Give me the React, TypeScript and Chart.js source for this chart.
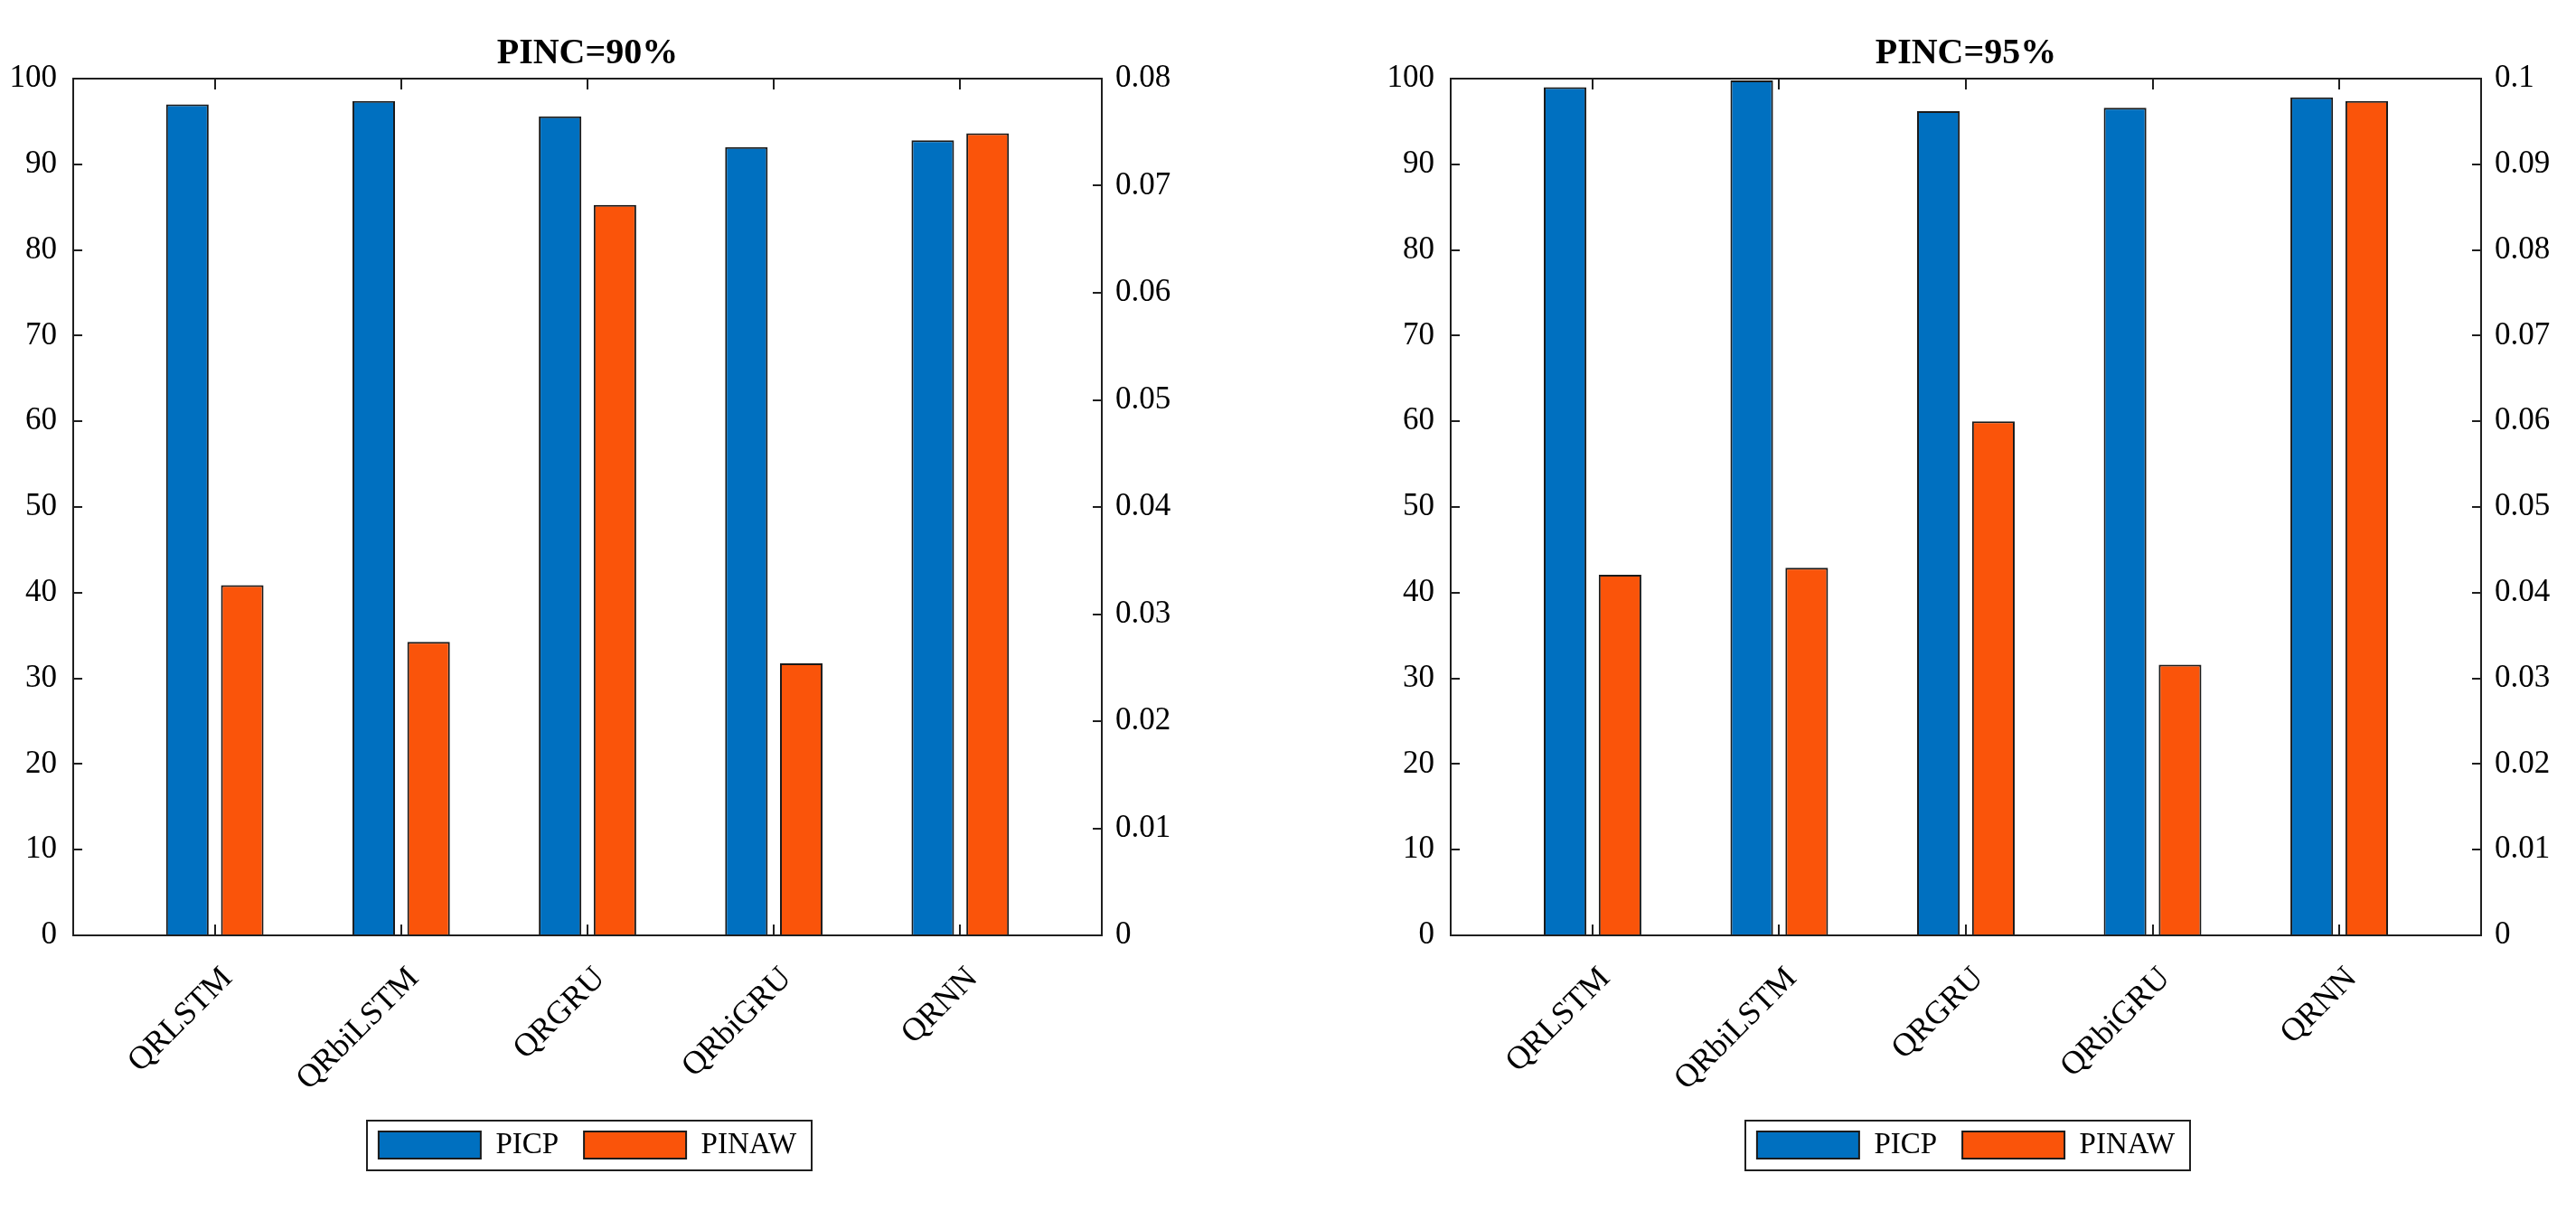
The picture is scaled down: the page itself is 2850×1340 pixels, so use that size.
import React, { useEffect, useRef } from "react";
import { Chart, registerables } from "chart.js";

Chart.register(...registerables);

// ---- data ----
const categories = ["QRLSTM", "QRbiLSTM", "QRGRU", "QRbiGRU", "QRNN"];
const seriesNames = ["PICP", "PINAW"];
const titles = ["PINC=90%", "PINC=95%"];
const picp90 = [97.0, 97.4, 95.6, 92.0, 92.8];
const pinaw90 = [0.0327, 0.0274, 0.0682, 0.0254, 0.0749];
const picp95 = [99.0, 99.8, 96.2, 96.6, 97.8];
const pinaw95 = [0.0421, 0.0429, 0.06, 0.0316, 0.0974];
const picpAxis = { min: 0, max: 100, step: 10 };
const pinawAxisMax = [0.08, 0.1];
const pinawStep = 0.01;

const SERIF = "'Liberation Serif', 'Times New Roman', serif";
const BLUE = "#0070C0";
const ORANGE = "#FA540A";
const EDGE = "#1a1a1a";

const frameTicks = {
  id: "frameTicks",
  afterDatasetsDraw(chart: any) {
    const { ctx, chartArea: a, scales } = chart;
    ctx.save();
    ctx.strokeStyle = "#1f1f1f";
    ctx.lineWidth = 2;
    ctx.beginPath();
    const L = 10;
    scales.y.ticks.forEach((t: any) => {
      const py = Math.round(scales.y.getPixelForValue(t.value));
      ctx.moveTo(a.left, py);
      ctx.lineTo(a.left + L, py);
    });
    scales.y1.ticks.forEach((t: any) => {
      const py = Math.round(scales.y1.getPixelForValue(t.value));
      ctx.moveTo(a.right, py);
      ctx.lineTo(a.right - L, py);
    });
    scales.x.ticks.forEach((t: any) => {
      const px = Math.round(scales.x.getPixelForValue(t.value));
      ctx.moveTo(px, a.bottom);
      ctx.lineTo(px, a.bottom - 12);
      ctx.moveTo(px, a.top);
      ctx.lineTo(px, a.top + 12);
    });
    ctx.stroke();
    ctx.strokeRect(a.left, a.top, a.right - a.left, a.bottom - a.top);
    ctx.restore();
  },
};

const legendFrame = {
  id: "legendFrame",
  afterDraw(chart: any) {
    const lg = chart.legend;
    const boxes = lg && lg.legendHitBoxes;
    if (!boxes || !boxes.length) return;
    const ctx = chart.ctx;
    const l = Math.min(...boxes.map((b: any) => b.left)) - 13;
    const r = Math.max(...boxes.map((b: any) => b.left + b.width)) + 17;
    const cy = boxes[0].top + boxes[0].height / 2;
    ctx.save();
    ctx.strokeStyle = "#1f1f1f";
    ctx.lineWidth = 2;
    ctx.strokeRect(Math.round(l), Math.round(cy - 27.5), Math.round(r - l), 55);
    ctx.restore();
  },
};

type PanelProps = {
  title: string;
  picp: number[];
  pinaw: number[];
  pinawMax: number;
  leftW: number;
  rightW: number;
  left: number;
};

function BarPanel({ title, picp, pinaw, pinawMax, leftW, rightW, left }: PanelProps) {
  const ref = useRef<HTMLCanvasElement>(null);
  useEffect(() => {
    const tickFont = { family: SERIF, size: 35 };
    const xFont = { family: SERIF, size: 36 };
    const chart = new Chart(ref.current as HTMLCanvasElement, {
      type: "bar",
      data: {
        datasets: [
          {
            label: seriesNames[0],
            data: picp.map((v, i) => ({ x: i + 1, y: v })),
            yAxisID: "y",
            backgroundColor: BLUE,
            borderColor: EDGE,
            borderWidth: 2,
            barPercentage: 0.775,
            categoryPercentage: 0.589,
          },
          {
            label: seriesNames[1],
            data: pinaw.map((v, i) => ({ x: i + 1, y: v })),
            yAxisID: "y1",
            backgroundColor: ORANGE,
            borderColor: EDGE,
            borderWidth: 2,
            barPercentage: 0.775,
            categoryPercentage: 0.589,
          },
        ] as any,
      },
      options: {
        responsive: false,
        animation: false,
        devicePixelRatio: 1,
        layout: { padding: { left: 0, right: 0, top: 0, bottom: 46.5 } },
        plugins: {
          tooltip: { enabled: false },
          title: {
            display: true,
            text: title,
            fullSize: false,
            color: "#000",
            font: { family: SERIF, size: 40, weight: "bold" },
            padding: { top: 36, bottom: 3 },
          },
          legend: {
            display: true,
            position: "bottom",
            fullSize: false,
            labels: {
              boxWidth: 113,
              boxHeight: 30,
              color: "#000",
              font: { family: SERIF, size: 33 },
              padding: 28,
            },
          },
        },
        scales: {
          x: {
            type: "linear",
            min: 0.24,
            max: 5.76,
            offset: false,
            grid: { display: false },
            border: { display: false },
            afterBuildTicks: (s: any) => {
              s.ticks = categories.map((_, i) => ({ value: i + 1 }));
            },
            afterFit: (s: any) => {
              s.height = 187.5;
            },
            ticks: {
              autoSkip: false,
              minRotation: 45,
              maxRotation: 45,
              padding: 19,
              labelOffset: 14,
              color: "#000",
              font: xFont,
              callback: (v: any) => categories[Math.round(Number(v)) - 1] ?? "",
            },
          },
          y: {
            type: "linear",
            position: "left",
            min: picpAxis.min,
            max: picpAxis.max,
            grid: { display: false, drawTicks: false },
            border: { display: false },
            afterFit: (s: any) => {
              s.width = leftW;
            },
            ticks: { stepSize: picpAxis.step, padding: 18, color: "#000", font: tickFont },
          },
          y1: {
            type: "linear",
            position: "right",
            min: 0,
            max: pinawMax,
            grid: { display: false, drawTicks: false },
            border: { display: false },
            afterFit: (s: any) => {
              s.width = rightW;
            },
            ticks: {
              stepSize: pinawStep,
              padding: 15,
              color: "#000",
              font: tickFont,
              callback: (v: any) => String(parseFloat(Number(v).toFixed(2))),
            },
          },
        },
      } as any,
      plugins: [frameTicks, legendFrame],
    });
    return () => chart.destroy();
  }, []);
  return (
    <canvas
      ref={ref}
      width={1425}
      height={1340}
      style={{ position: "absolute", left, top: 0, width: 1425, height: 1340 }}
    />
  );
}

export default function App() {
  return (
    <div
      style={{
        position: "absolute",
        left: 0,
        top: 0,
        width: 2850,
        height: 1340,
        background: "#fff",
        overflow: "hidden",
      }}
    >
      <BarPanel title={titles[0]} picp={picp90} pinaw={pinaw90} pinawMax={pinawAxisMax[0]} leftW={81} rightW={206} left={0} />
      <BarPanel title={titles[1]} picp={picp95} pinaw={pinaw95} pinawMax={pinawAxisMax[1]} leftW={180} rightW={105} left={1425} />
    </div>
  );
}
